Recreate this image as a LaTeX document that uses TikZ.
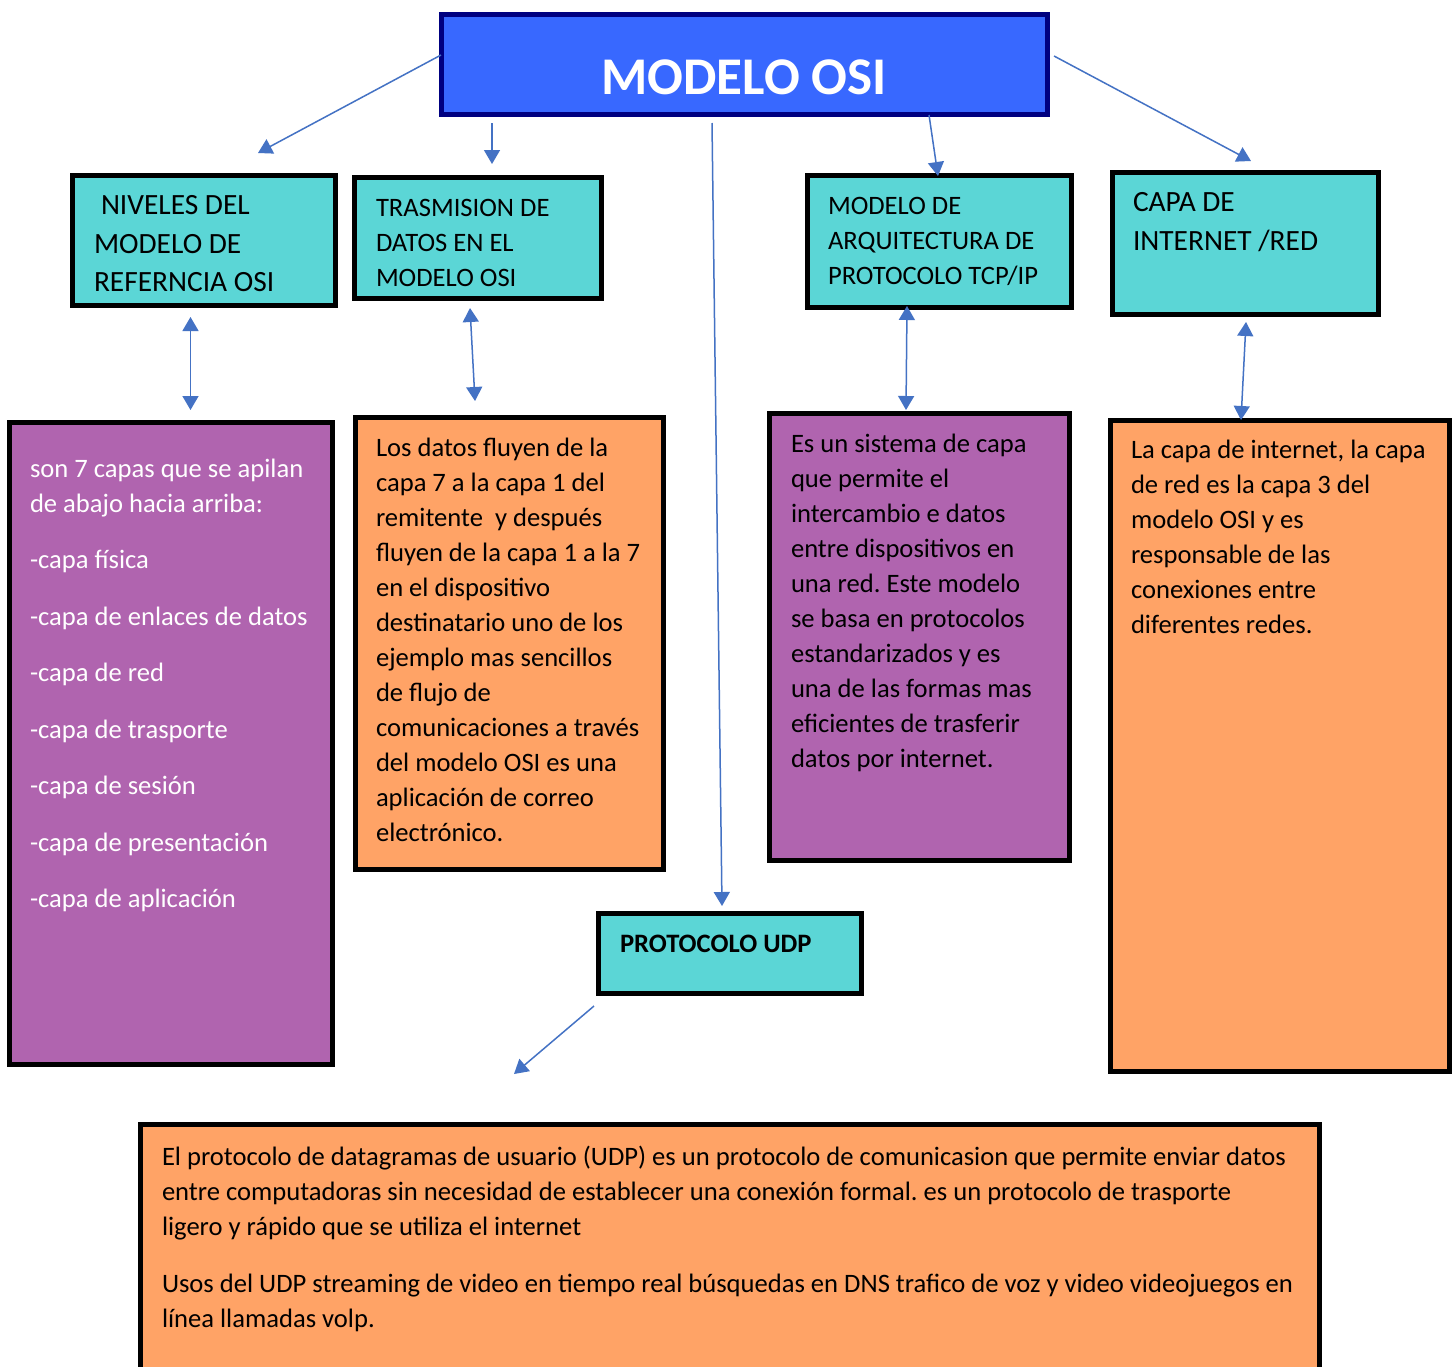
\documentclass[tikz,border=0pt]{standalone}
\usepackage{fontspec}
\setmainfont{Carlito}
\frenchspacing
\usetikzlibrary{arrows.meta}
\definecolor{titlefill}{HTML}{3868FF}
\definecolor{titlenavy}{HTML}{000080}
\definecolor{cyanfill}{HTML}{5BD6D6}
\definecolor{purplefill}{HTML}{B064AF}
\definecolor{orangefill}{HTML}{FFA366}
\definecolor{arrowblue}{HTML}{4472C4}
\tikzset{
  box/.style={draw=black, line width=2.5pt, inner sep=0pt, outer sep=0pt},
  cyanbox/.style={box, fill=cyanfill},
  purplebox/.style={box, fill=purplefill},
  orangebox/.style={box, fill=orangefill},
  txt/.style={anchor=north west, inner sep=0pt, outer sep=0pt, align=left, text=black,
    font=\frenchspacing\fontsize{13.3}{17.5}\selectfont},
  bigtxt/.style={txt, font=\frenchspacing\fontsize{14.7}{19.25}\selectfont},
  arr/.style={draw=arrowblue, line width=0.75pt, -{Triangle[length=7pt,width=8pt]}},
  dbl/.style={draw=arrowblue, line width=0.75pt, {Triangle[length=7pt,width=8pt]}-{Triangle[length=7pt,width=8pt]}}
}
\begin{document}
\begin{tikzpicture}[x=0.5pt,y=-0.5pt]
\useasboundingbox (0,0) rectangle (1455,1366);
\fill[white] (0,0) rectangle (1455,1366);
% title
\node[draw=titlenavy, line width=2.5pt, fill=titlefill, minimum width=303pt, minimum height=50pt, inner sep=0pt] (title) at (744.5,64.5) {};
\node[anchor=base, inner sep=0pt, text=white, font=\fontsize{26.5}{30}\selectfont\bfseries] (titletxt) at (744,94) {MODELO OSI};
% header boxes
\node[cyanbox, minimum width=131.5pt, minimum height=65pt] (niv) at (204,240.5) {};
\node[cyanbox, minimum width=123.5pt, minimum height=60.5pt] (tras) at (478,238) {};
\node[cyanbox, minimum width=132pt, minimum height=66pt] (arq) at (939.5,241.5) {};
\node[cyanbox, minimum width=133pt, minimum height=71pt] (capa) at (1245.5,243.5) {};
\node[bigtxt] (nivtxt) at (94,188) {\strut\hspace{3.5pt}NIVELES DEL\\ MODELO DE\\ REFERNCIA OSI};
\node[txt] (trastxt) at (376,191.5) {\strut TRASMISION DE\\ DATOS EN EL\\ MODELO OSI};
\node[txt] (arqtxt) at (828,189.5) {\strut MODELO DE\\ ARQUITECTURA DE\\ PROTOCOLO TCP/IP};
\node[bigtxt] (capatxt) at (1133,185) {\strut CAPA DE\\ INTERNET /RED};
% content boxes
\node[purplebox, minimum width=161.5pt, minimum height=321pt] (p1) at (171,743.5) {};
\node[orangebox, minimum width=154pt, minimum height=226pt] (o2) at (509.5,643.5) {};
\node[purplebox, minimum width=150pt, minimum height=223.5pt] (p3) at (919.5,637) {};
\node[orangebox, minimum width=169.5pt, minimum height=325.5pt] (o4) at (1280,746) {};
\node[txt, text=white] (p1txt) at (30,452.5) {\strut son 7 capas que se apilan\\ de abajo hacia arriba:\\[10.75pt]
 -capa física\\[10.75pt] -capa de enlaces de datos\\[10.75pt] -capa de red\\[10.75pt] -capa de trasporte\\[10.75pt]
 -capa de sesión\\[10.75pt] -capa de presentación\\[10.75pt] -capa de aplicación};
\node[txt] (o2txt) at (376,431.5) {\strut Los datos fluyen de la\\ capa 7 a la capa 1 del\\ remitente\ \ y después\\
 fluyen de la capa 1 a la 7\\ en el dispositivo\\ destinatario uno de los\\ ejemplo mas sencillos\\ de flujo de\\
 comunicaciones a través\\ del modelo OSI es una\\ aplicación de correo\\ electrónico.};
\node[txt] (p3txt) at (791,427.5) {\strut Es un sistema de capa\\ que permite el\\ intercambio e datos\\ entre dispositivos en\\
 una red. Este modelo\\ se basa en protocolos\\ estandarizados y es\\ una de las formas mas\\ eficientes de trasferir\\ datos por internet.};
\node[txt] (o4txt) at (1131,433.5) {\strut La capa de internet, la capa\\ de red es la capa 3 del\\ modelo OSI y es\\ responsable de las\\ conexiones entre\\ diferentes redes.};
% UDP
\node[cyanbox, minimum width=131.5pt, minimum height=40pt] (udp) at (730,953.5) {};
\node[txt, font=\fontsize{13.3}{17.5}\selectfont\bfseries] (udptxt) at (620,927.5) {\strut PROTOCOLO UDP};
% bottom
\node[orangebox, minimum width=589.5pt, minimum height=137.75pt] (bot) at (730,1262.25) {};
\node[txt] (bottxt) at (162,1140.5) {\strut El protocolo de datagramas de usuario (UDP) es un protocolo de comunicasion que permite enviar datos\\
 entre computadoras sin necesidad de establecer una conexión formal. es un protocolo de trasporte\\
 ligero y rápido que se utiliza el internet\\[11pt]
 Usos del UDP streaming de video en tiempo real búsquedas en DNS trafico de voz y video videojuegos en\\
 línea llamadas volp.};
% arrow end points
\coordinate (a1s) at (441,55);   \coordinate (a1e) at (258,153);
\coordinate (a2s) at (492,123);  \coordinate (a2e) at (492,164);
\coordinate (a3s) at (712,123);  \coordinate (a3e) at (722,906);
\coordinate (a4s) at (929,115);  \coordinate (a4e) at (938,176);
\coordinate (a5s) at (1054,56);  \coordinate (a5e) at (1251,161);
\coordinate (d1s) at (190.5,317); \coordinate (d1e) at (190.5,410);
\coordinate (d2s) at (470,308);  \coordinate (d2e) at (475,401);
\coordinate (d3s) at (907,306);  \coordinate (d3e) at (906,410);
\coordinate (d4s) at (1246,322); \coordinate (d4e) at (1241,420);
\coordinate (a6s) at (594,1006); \coordinate (a6e) at (514,1074);
\draw[arr] (a1s) -- (a1e);
\draw[arr] (a2s) -- (a2e);
\draw[arr] (a3s) -- (a3e);
\draw[arr] (a4s) -- (a4e);
\draw[arr] (a5s) -- (a5e);
\draw[arr] (a6s) -- (a6e);
\draw[dbl] (d1s) -- (d1e);
\draw[dbl] (d2s) -- (d2e);
\draw[dbl] (d3s) -- (d3e);
\draw[dbl] (d4s) -- (d4e);
\end{tikzpicture}
\end{document}
